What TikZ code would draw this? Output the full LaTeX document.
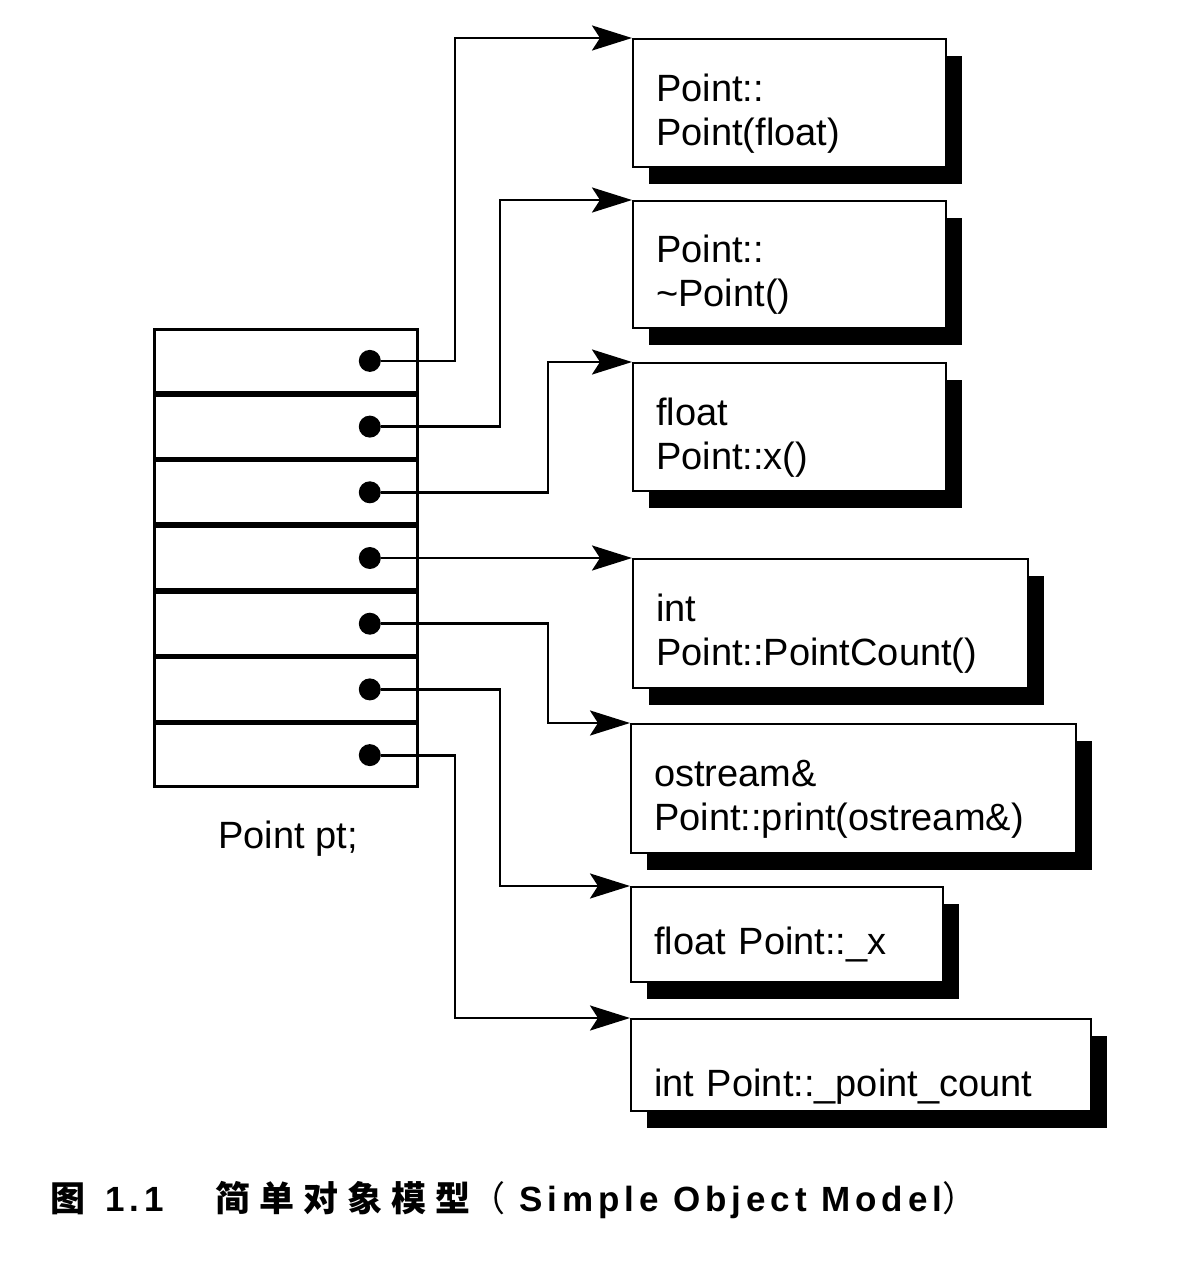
\documentclass[tikz,border=0pt]{standalone}
\usepackage{fontspec}
\setmainfont{Liberation Sans}
\newfontfamily\cjk{Noto Sans CJK SC}
\newfontfamily\cjkwide{Noto Sans CJK SC}[LetterSpace=26]
\newfontfamily\capfont{Liberation Sans}[LetterSpace=14]
\usetikzlibrary{arrows.meta, positioning, calc, shadows}
\newcommand{\topstrut}[1]{\rule{0pt}{#1}}

\begin{document}
\begin{tikzpicture}[x=1pt, y=-1pt,
  slot/.style={draw, line width=2.8pt, minimum width=263pt, minimum height=63pt, anchor=north west, inner sep=0pt},
  dot/.style={circle, fill, minimum size=22pt, inner sep=0pt},
  fbox/.style={draw, fill=white, line width=2.4pt, anchor=north west, inner xsep=23pt, inner ysep=0pt, align=left,
    font=\fontsize{38}{44}\selectfont, execute at begin node=\topstrut{48pt},
    drop shadow={shadow xshift=16pt, shadow yshift=-17pt, fill=black, opacity=1}},
  ptr/.style={line width=2.8pt, -{Stealth[length=40pt, width=25pt, inset=8pt]}},
  captext/.style={anchor=base west, inner sep=0pt, font=\fontsize{35}{40}\selectfont}]
  \useasboundingbox (0,0) rectangle (1180,1264);
  % the object: seven slots, each one a pointer
  \foreach \i in {1,...,7} {
    \node[slot] (s\i) at (153, {328+65.7*(\i-1)}) {};
    \node[dot] (d\i) at ($(s\i.east)+(-49,0)$) {};
  }
  \node[anchor=base, font=\fontsize{38}{44}\selectfont] (obj) at (288,848) {Point pt;};
  % the members
  \node[fbox, minimum width=313pt, minimum height=128pt, text width=267pt] (f1) at (632,38) {Point::\\Point(float)};
  \node[fbox, minimum width=313pt, minimum height=127pt, text width=267pt] (f2) at (632,200) {Point::\\\textasciitilde Point()};
  \node[fbox, minimum width=313pt, minimum height=128pt, text width=267pt] (f3) at (632,362) {float\\Point::x()};
  \node[fbox, minimum width=395pt, minimum height=129pt, text width=349pt] (f4) at (632,558) {int\\Point::PointCount()};
  \node[fbox, minimum width=445pt, minimum height=129pt, text width=399pt] (f5) at (630,723) {ostream\&\\Point::print(ostream\&)};
  \node[fbox, minimum width=312pt, minimum height=95pt, text width=266pt] (f6) at (630,886) {float Point::\_x};
  \node[fbox, minimum width=460pt, minimum height=92pt, text width=414pt,
    execute at begin node=\topstrut{70pt}] (f7) at (630,1018) {int Point::\_point\_count};
  % bends of the pointers
  \coordinate (k1) at (455,0);
  \coordinate (k2) at (500,0);
  \coordinate (k3) at (548,0);
  \draw[ptr] (d1) -- (d1 -| k1) |- (f1.north west);
  \draw[ptr] (d2) -- (d2 -| k2) |- (f2.north west);
  \draw[ptr] (d3) -- (d3 -| k3) |- (f3.north west);
  \draw[ptr] (d4) -- (d4 -| f4.west);
  \draw[ptr] (d5) -- (d5 -| k3) |- (f5.north west);
  \draw[ptr] (d6) -- (d6 -| k2) |- (f6.north west);
  \draw[ptr] (d7) -- (d7 -| k1) |- (f7.north west);
  % caption
  \node[captext] (fig) at (50,1211) {\cjk\bfseries 图};
  \node[captext] (num) at (105,1211) {\capfont\bfseries 1.1};
  \node[captext] (title) at (215,1211) {\cjkwide\bfseries 简单对象模型\cjk\mdseries （\hspace{14pt}\capfont\bfseries Simple Object Model\cjk\mdseries ）};
\end{tikzpicture}
\end{document}
